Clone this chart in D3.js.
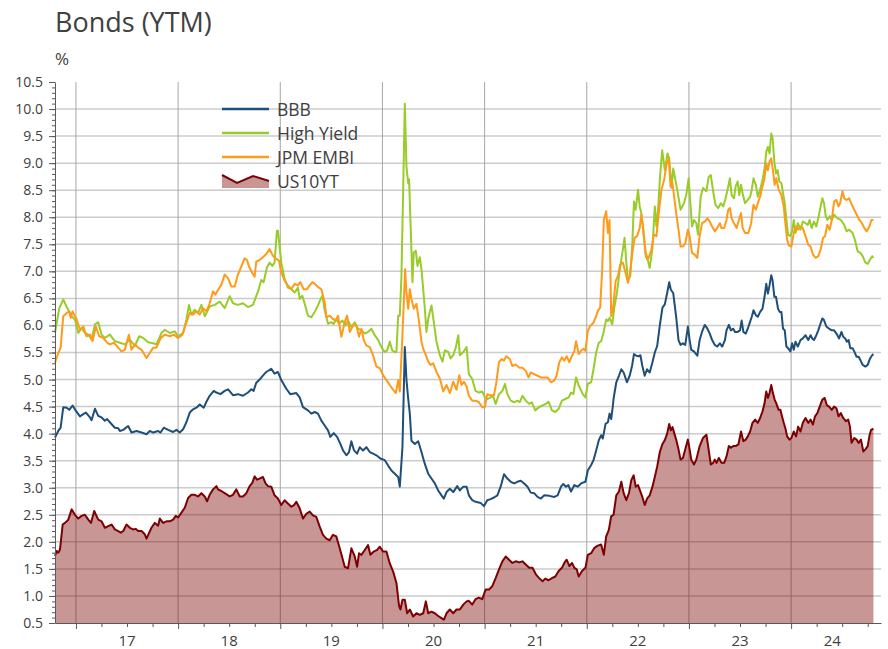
<!DOCTYPE html>
<html>
<head>
  <meta charset="utf-8">
  <title>Bonds (YTM)</title>
  <script src="https://cdn.jsdelivr.net/npm/d3@7"></script>
  <style>
    body { margin: 0; background: #ffffff; }
    text { font-family: "Open Sans", sans-serif; fill: #404040; }
  </style>
</head>
<body>
<svg id="chart" width="888" height="649"></svg>
<script>
// values, [decimal year, yield %]
var yearLabels = ["17", "18", "19", "20", "21", "22", "23", "24"];
var seriesNames = ["BBB", "High Yield", "JPM EMBI", "US10YT"];

var bbb = [[2016.795,3.93],[2016.827,4.05],[2016.850,4.11],[2016.876,4.49],[2016.909,4.48],[2016.935,4.44],[2016.967,4.52],[2017.0,4.42],[2017.039,4.32],[2017.072,4.36],[2017.098,4.39],[2017.137,4.30],[2017.153,4.25],[2017.186,4.46],[2017.218,4.33],[2017.251,4.30],[2017.283,4.24],[2017.306,4.27],[2017.332,4.21],[2017.381,4.11],[2017.414,4.10],[2017.430,4.05],[2017.463,4.07],[2017.511,4.14],[2017.544,4.02],[2017.593,4.05],[2017.642,4.02],[2017.691,3.99],[2017.723,4.05],[2017.756,4.02],[2017.805,4.05],[2017.827,4.02],[2017.860,4.11],[2017.902,4.07],[2017.951,4.03],[2017.984,4.07],[2018.016,4.02],[2018.049,4.08],[2018.081,4.21],[2018.114,4.39],[2018.147,4.45],[2018.179,4.48],[2018.212,4.54],[2018.251,4.48],[2018.277,4.59],[2018.309,4.70],[2018.349,4.79],[2018.375,4.76],[2018.414,4.73],[2018.456,4.79],[2018.489,4.82],[2018.537,4.71],[2018.586,4.73],[2018.635,4.70],[2018.684,4.76],[2018.717,4.82],[2018.739,4.79],[2018.765,4.94],[2018.798,5.00],[2018.824,5.06],[2018.847,5.11],[2018.863,5.14],[2018.912,5.20],[2018.944,5.11],[2018.977,5.14],[2019.010,4.99],[2019.059,4.83],[2019.098,4.73],[2019.157,4.75],[2019.190,4.67],[2019.222,4.49],[2019.271,4.43],[2019.304,4.37],[2019.337,4.40],[2019.369,4.37],[2019.402,4.24],[2019.435,4.15],[2019.467,4.06],[2019.490,3.94],[2019.523,4.01],[2019.556,3.94],[2019.588,3.81],[2019.614,3.69],[2019.647,3.60],[2019.673,3.66],[2019.696,3.86],[2019.722,3.69],[2019.752,3.63],[2019.778,3.75],[2019.810,3.69],[2019.843,3.75],[2019.876,3.66],[2019.908,3.63],[2019.941,3.60],[2019.980,3.54],[2020.023,3.51],[2020.056,3.41],[2020.088,3.32],[2020.121,3.26],[2020.154,3.20],[2020.170,3.02],[2020.196,3.75],[2020.219,5.60],[2020.235,5.00],[2020.252,4.65],[2020.268,4.37],[2020.284,3.87],[2020.317,3.81],[2020.350,3.86],[2020.382,3.66],[2020.415,3.44],[2020.448,3.26],[2020.480,3.17],[2020.513,3.08],[2020.546,2.95],[2020.578,2.86],[2020.601,2.80],[2020.627,2.92],[2020.660,2.98],[2020.693,2.92],[2020.732,3.03],[2020.758,2.95],[2020.791,3.02],[2020.824,3.02],[2020.846,2.86],[2020.879,2.77],[2020.911,2.74],[2020.961,2.72],[2020.993,2.66],[2021.026,2.77],[2021.059,2.79],[2021.092,2.82],[2021.125,2.86],[2021.157,3.02],[2021.190,3.25],[2021.223,3.17],[2021.256,3.11],[2021.289,3.08],[2021.321,3.11],[2021.354,3.13],[2021.387,3.08],[2021.420,3.02],[2021.452,2.91],[2021.485,2.90],[2021.518,2.83],[2021.551,2.80],[2021.584,2.86],[2021.633,2.85],[2021.682,2.83],[2021.715,2.86],[2021.748,3.02],[2021.770,3.07],[2021.797,3.02],[2021.820,3.05],[2021.846,2.93],[2021.879,3.05],[2021.911,3.02],[2021.944,3.08],[2021.987,3.11],[2022.010,3.32],[2022.043,3.42],[2022.066,3.51],[2022.092,3.69],[2022.118,3.88],[2022.141,3.97],[2022.157,3.91],[2022.184,4.18],[2022.207,4.21],[2022.223,4.37],[2022.239,4.27],[2022.256,4.52],[2022.262,4.64],[2022.289,4.95],[2022.315,5.07],[2022.338,5.19],[2022.361,5.13],[2022.393,4.95],[2022.420,5.07],[2022.443,5.25],[2022.462,5.47],[2022.485,5.44],[2022.508,5.43],[2022.525,5.45],[2022.544,5.25],[2022.567,5.07],[2022.590,5.19],[2022.616,5.13],[2022.643,5.32],[2022.666,5.50],[2022.689,5.62],[2022.715,6.00],[2022.741,6.33],[2022.764,6.39],[2022.787,6.60],[2022.807,6.80],[2022.823,6.66],[2022.846,6.60],[2022.875,6.16],[2022.898,5.73],[2022.918,5.64],[2022.941,5.67],[2022.964,5.64],[2022.990,5.98],[2023.007,5.73],[2023.023,5.55],[2023.049,5.52],[2023.082,5.44],[2023.105,5.73],[2023.128,5.88],[2023.155,6.01],[2023.181,5.94],[2023.204,5.85],[2023.227,5.73],[2023.253,5.64],[2023.276,5.61],[2023.303,5.67],[2023.326,5.61],[2023.352,5.73],[2023.368,5.91],[2023.391,6.01],[2023.411,5.91],[2023.434,5.94],[2023.451,5.88],[2023.477,5.88],[2023.500,5.91],[2023.516,6.09],[2023.533,5.88],[2023.556,5.85],[2023.576,5.94],[2023.599,6.07],[2023.615,6.16],[2023.632,6.28],[2023.655,6.19],[2023.674,6.16],[2023.697,6.25],[2023.720,6.31],[2023.740,6.53],[2023.757,6.77],[2023.773,6.59],[2023.789,6.74],[2023.806,6.93],[2023.819,6.83],[2023.836,6.53],[2023.852,6.53],[2023.872,6.31],[2023.888,6.25],[2023.905,6.25],[2023.921,5.94],[2023.938,5.91],[2023.954,5.61],[2023.970,5.58],[2023.993,5.52],[2024.010,5.67],[2024.026,5.55],[2024.043,5.70],[2024.066,5.61],[2024.092,5.73],[2024.115,5.76],[2024.141,5.82],[2024.168,5.73],[2024.191,5.82],[2024.207,5.76],[2024.224,5.73],[2024.240,5.79],[2024.266,5.91],[2024.289,6.04],[2024.306,6.13],[2024.322,6.10],[2024.345,5.98],[2024.372,5.94],[2024.398,5.91],[2024.421,5.91],[2024.444,5.85],[2024.470,5.76],[2024.493,5.88],[2024.510,5.79],[2024.530,5.76],[2024.546,5.70],[2024.563,5.73],[2024.579,5.58],[2024.602,5.58],[2024.618,5.52],[2024.641,5.42],[2024.661,5.42],[2024.678,5.36],[2024.701,5.27],[2024.727,5.24],[2024.750,5.27],[2024.773,5.39],[2024.793,5.45],[2024.806,5.47]];

var highYield = [[2016.795,5.86],[2016.837,6.32],[2016.876,6.48],[2016.902,6.37],[2016.958,6.17],[2016.990,6.11],[2017.023,5.86],[2017.055,5.95],[2017.088,5.86],[2017.121,5.83],[2017.153,5.74],[2017.186,6.02],[2017.218,6.06],[2017.251,5.83],[2017.283,5.77],[2017.332,5.83],[2017.381,5.71],[2017.430,5.68],[2017.479,5.65],[2017.528,5.74],[2017.577,5.62],[2017.619,5.80],[2017.658,5.77],[2017.707,5.69],[2017.756,5.67],[2017.788,5.65],[2017.837,5.86],[2017.870,5.92],[2017.919,5.86],[2017.967,5.89],[2018.0,5.80],[2018.049,5.86],[2018.081,6.11],[2018.107,6.38],[2018.130,6.20],[2018.163,6.29],[2018.195,6.23],[2018.228,6.38],[2018.261,6.17],[2018.309,6.35],[2018.358,6.38],[2018.407,6.44],[2018.456,6.32],[2018.505,6.54],[2018.537,6.41],[2018.586,6.38],[2018.635,6.41],[2018.684,6.34],[2018.733,6.38],[2018.782,6.63],[2018.814,6.84],[2018.837,6.80],[2018.869,7.07],[2018.895,7.16],[2018.922,7.10],[2018.944,7.16],[2018.967,7.75],[2018.977,7.75],[2018.993,7.47],[2019.010,7.16],[2019.042,6.86],[2019.075,6.70],[2019.108,6.67],[2019.141,6.61],[2019.173,6.70],[2019.190,6.49],[2019.216,6.55],[2019.239,6.40],[2019.271,6.18],[2019.304,6.15],[2019.337,6.25],[2019.369,6.37],[2019.395,6.49],[2019.412,6.55],[2019.435,6.28],[2019.467,6.03],[2019.500,6.06],[2019.523,6.03],[2019.549,6.12],[2019.575,6.03],[2019.608,6.09],[2019.641,6.00],[2019.663,6.09],[2019.696,5.97],[2019.729,6.06],[2019.761,5.94],[2019.794,5.91],[2019.827,5.85],[2019.859,5.88],[2019.892,5.94],[2019.925,5.82],[2019.958,5.73],[2019.990,5.60],[2020.023,5.51],[2020.046,5.54],[2020.072,5.70],[2020.095,5.54],[2020.121,5.51],[2020.137,5.51],[2020.154,6.18],[2020.170,6.18],[2020.186,6.92],[2020.203,8.51],[2020.219,10.10],[2020.235,8.94],[2020.252,8.63],[2020.261,8.70],[2020.275,7.90],[2020.294,6.80],[2020.307,7.35],[2020.327,7.38],[2020.343,7.10],[2020.366,7.26],[2020.382,7.04],[2020.399,6.67],[2020.415,6.31],[2020.431,5.88],[2020.448,6.12],[2020.464,6.25],[2020.480,6.37],[2020.503,6.06],[2020.529,5.70],[2020.562,5.45],[2020.588,5.33],[2020.611,5.54],[2020.644,5.51],[2020.667,5.39],[2020.693,5.45],[2020.719,5.60],[2020.742,5.82],[2020.758,5.45],[2020.791,5.51],[2020.824,5.60],[2020.846,5.10],[2020.879,5.01],[2020.911,4.79],[2020.944,4.76],[2020.977,4.78],[2021.003,4.67],[2021.026,4.64],[2021.059,4.67],[2021.082,4.70],[2021.108,4.55],[2021.141,4.73],[2021.174,4.79],[2021.200,4.92],[2021.223,4.73],[2021.256,4.61],[2021.289,4.58],[2021.321,4.61],[2021.344,4.58],[2021.370,4.70],[2021.403,4.61],[2021.436,4.55],[2021.462,4.58],[2021.495,4.43],[2021.534,4.49],[2021.567,4.52],[2021.600,4.55],[2021.626,4.59],[2021.659,4.43],[2021.692,4.40],[2021.725,4.46],[2021.757,4.61],[2021.790,4.64],[2021.823,4.67],[2021.846,4.76],[2021.869,4.73],[2021.895,5.04],[2021.921,4.89],[2021.961,4.73],[2021.987,4.67],[2022.010,4.92],[2022.043,4.95],[2022.066,5.19],[2022.092,5.50],[2022.118,5.68],[2022.141,5.71],[2022.164,5.87],[2022.190,6.11],[2022.207,6.08],[2022.223,6.14],[2022.249,6.02],[2022.272,6.36],[2022.295,6.60],[2022.321,7.00],[2022.348,7.34],[2022.370,7.62],[2022.387,7.16],[2022.403,6.85],[2022.426,6.91],[2022.446,7.52],[2022.462,8.29],[2022.479,8.14],[2022.502,8.51],[2022.518,8.20],[2022.534,8.08],[2022.551,7.77],[2022.577,7.28],[2022.600,7.19],[2022.616,7.06],[2022.643,7.43],[2022.666,8.20],[2022.682,7.83],[2022.698,8.14],[2022.715,8.69],[2022.738,9.24],[2022.764,8.87],[2022.790,9.18],[2022.807,9.09],[2022.830,8.54],[2022.846,8.90],[2022.885,8.51],[2022.918,8.14],[2022.951,8.26],[2022.974,8.41],[2022.997,8.72],[2023.016,8.20],[2023.030,7.83],[2023.049,7.95],[2023.072,7.89],[2023.089,7.68],[2023.115,8.38],[2023.138,8.54],[2023.171,8.48],[2023.194,8.75],[2023.214,8.78],[2023.237,8.48],[2023.260,8.23],[2023.286,8.17],[2023.313,8.26],[2023.336,8.20],[2023.359,8.35],[2023.385,8.57],[2023.401,8.72],[2023.418,8.41],[2023.441,8.35],[2023.457,8.57],[2023.477,8.66],[2023.493,8.41],[2023.510,8.60],[2023.526,8.44],[2023.549,8.26],[2023.576,8.32],[2023.599,8.38],[2023.615,8.51],[2023.632,8.72],[2023.655,8.60],[2023.674,8.38],[2023.697,8.51],[2023.720,8.69],[2023.740,8.90],[2023.757,9.21],[2023.773,9.30],[2023.789,9.18],[2023.806,9.55],[2023.819,9.46],[2023.836,9.03],[2023.852,8.81],[2023.868,8.87],[2023.885,8.66],[2023.905,8.63],[2023.918,8.48],[2023.938,8.26],[2023.954,7.95],[2023.970,7.68],[2023.993,7.65],[2024.010,7.74],[2024.026,7.95],[2024.043,7.71],[2024.066,7.89],[2024.092,7.77],[2024.115,7.92],[2024.141,7.89],[2024.164,7.86],[2024.181,7.95],[2024.201,7.80],[2024.224,7.92],[2024.247,7.83],[2024.266,7.98],[2024.289,8.20],[2024.306,8.35],[2024.322,8.26],[2024.339,8.02],[2024.355,7.95],[2024.378,8.02],[2024.398,7.95],[2024.421,8.05],[2024.454,7.98],[2024.487,7.95],[2024.520,7.86],[2024.543,7.74],[2024.569,7.77],[2024.602,7.71],[2024.628,7.56],[2024.651,7.37],[2024.678,7.34],[2024.701,7.28],[2024.727,7.16],[2024.750,7.14],[2024.773,7.22],[2024.793,7.28],[2024.806,7.25]];

var jpmEmbi = [[2016.795,5.31],[2016.827,5.49],[2016.850,5.59],[2016.876,6.17],[2016.909,6.23],[2016.935,6.26],[2016.948,6.14],[2016.967,6.26],[2017.007,6.11],[2017.039,5.92],[2017.072,5.98],[2017.104,5.80],[2017.137,5.83],[2017.163,5.71],[2017.195,5.98],[2017.228,5.80],[2017.267,5.77],[2017.306,5.68],[2017.332,5.65],[2017.371,5.68],[2017.414,5.59],[2017.446,5.52],[2017.479,5.55],[2017.518,5.83],[2017.544,5.55],[2017.577,5.65],[2017.609,5.59],[2017.642,5.55],[2017.691,5.40],[2017.723,5.49],[2017.756,5.59],[2017.788,5.59],[2017.831,5.77],[2017.870,5.83],[2017.919,5.80],[2017.958,5.83],[2018.0,5.77],[2018.042,5.83],[2018.081,6.05],[2018.114,6.23],[2018.147,6.20],[2018.179,6.26],[2018.212,6.20],[2018.244,6.32],[2018.277,6.26],[2018.309,6.41],[2018.342,6.63],[2018.365,6.57],[2018.391,6.66],[2018.423,6.75],[2018.456,6.94],[2018.489,6.87],[2018.521,6.72],[2018.554,6.72],[2018.586,6.94],[2018.619,7.09],[2018.651,7.24],[2018.674,7.21],[2018.694,7.09],[2018.726,6.97],[2018.749,6.90],[2018.765,7.18],[2018.798,7.21],[2018.830,7.26],[2018.863,7.32],[2018.895,7.41],[2018.928,7.29],[2018.961,7.23],[2018.987,7.20],[2019.010,6.98],[2019.042,6.83],[2019.075,6.74],[2019.108,6.67],[2019.141,6.77],[2019.173,6.74],[2019.196,6.80],[2019.229,6.67],[2019.261,6.67],[2019.288,6.74],[2019.314,6.80],[2019.337,6.77],[2019.369,6.71],[2019.402,6.67],[2019.435,6.43],[2019.451,6.15],[2019.484,6.18],[2019.516,6.12],[2019.542,6.09],[2019.565,6.18],[2019.598,5.79],[2019.631,6.06],[2019.654,6.18],[2019.680,5.88],[2019.712,6.00],[2019.745,6.00],[2019.771,5.79],[2019.794,5.94],[2019.817,5.73],[2019.843,5.63],[2019.876,5.60],[2019.908,5.45],[2019.941,5.24],[2019.974,5.21],[2020.007,5.08],[2020.039,4.99],[2020.072,4.90],[2020.105,4.81],[2020.131,4.75],[2020.154,4.99],[2020.170,4.78],[2020.193,5.70],[2020.209,6.43],[2020.222,7.04],[2020.235,6.61],[2020.252,6.31],[2020.268,6.67],[2020.284,6.49],[2020.307,6.31],[2020.333,6.40],[2020.359,6.06],[2020.382,5.70],[2020.399,5.57],[2020.425,5.45],[2020.448,5.33],[2020.471,5.27],[2020.497,5.30],[2020.529,5.14],[2020.562,5.02],[2020.595,4.78],[2020.627,4.90],[2020.660,4.75],[2020.693,4.96],[2020.725,4.81],[2020.752,5.08],[2020.775,4.90],[2020.797,4.96],[2020.824,4.87],[2020.846,4.70],[2020.879,4.61],[2020.911,4.61],[2020.944,4.58],[2020.977,4.49],[2021.003,4.49],[2021.026,4.73],[2021.049,4.71],[2021.092,4.71],[2021.115,4.95],[2021.141,5.32],[2021.167,5.38],[2021.190,5.35],[2021.213,5.43],[2021.246,5.38],[2021.272,5.25],[2021.305,5.28],[2021.338,5.22],[2021.370,5.22],[2021.403,5.16],[2021.430,5.04],[2021.452,5.13],[2021.485,5.10],[2021.518,5.07],[2021.551,5.04],[2021.584,5.04],[2021.616,5.04],[2021.649,4.95],[2021.682,4.98],[2021.705,5.07],[2021.731,5.32],[2021.757,5.41],[2021.780,5.35],[2021.803,5.43],[2021.830,5.32],[2021.856,5.44],[2021.879,5.53],[2021.895,5.71],[2021.921,5.47],[2021.944,5.53],[2021.967,5.57],[2021.987,5.53],[2022.010,5.90],[2022.033,5.99],[2022.066,6.05],[2022.092,6.17],[2022.108,6.27],[2022.131,6.33],[2022.151,7.03],[2022.167,7.95],[2022.190,8.11],[2022.207,7.71],[2022.223,7.95],[2022.239,6.17],[2022.262,6.39],[2022.282,6.82],[2022.305,6.91],[2022.328,7.13],[2022.354,7.16],[2022.380,6.97],[2022.403,6.79],[2022.420,6.91],[2022.446,7.34],[2022.469,7.62],[2022.492,7.65],[2022.518,7.80],[2022.534,8.05],[2022.551,7.83],[2022.577,7.34],[2022.600,7.22],[2022.633,7.40],[2022.656,7.68],[2022.682,7.65],[2022.705,8.08],[2022.731,8.51],[2022.757,8.69],[2022.780,8.97],[2022.803,9.09],[2022.820,8.57],[2022.839,8.63],[2022.875,8.08],[2022.898,7.77],[2022.918,7.46],[2022.941,7.46],[2022.964,7.52],[2022.990,7.77],[2023.007,7.65],[2023.030,7.34],[2023.056,7.31],[2023.082,7.25],[2023.105,7.65],[2023.128,7.89],[2023.155,7.92],[2023.181,7.98],[2023.204,7.92],[2023.227,7.83],[2023.253,7.74],[2023.276,7.80],[2023.303,7.89],[2023.319,7.80],[2023.345,7.80],[2023.368,7.95],[2023.385,8.14],[2023.401,8.17],[2023.418,7.98],[2023.441,7.89],[2023.467,7.80],[2023.490,7.95],[2023.510,8.08],[2023.526,7.80],[2023.549,7.71],[2023.582,7.71],[2023.609,7.89],[2023.632,8.23],[2023.655,8.14],[2023.674,8.26],[2023.697,8.38],[2023.720,8.57],[2023.740,8.72],[2023.757,9.00],[2023.773,8.87],[2023.789,9.03],[2023.806,9.09],[2023.822,8.87],[2023.839,8.60],[2023.855,8.72],[2023.878,8.51],[2023.905,8.41],[2023.928,8.20],[2023.944,7.89],[2023.961,7.59],[2023.977,7.48],[2024.003,7.46],[2024.026,7.71],[2024.043,7.83],[2024.069,7.77],[2024.092,7.83],[2024.115,7.80],[2024.141,7.65],[2024.168,7.49],[2024.191,7.46],[2024.214,7.31],[2024.240,7.25],[2024.266,7.28],[2024.289,7.40],[2024.313,7.62],[2024.332,7.65],[2024.355,7.86],[2024.378,7.77],[2024.398,7.95],[2024.421,8.29],[2024.444,8.32],[2024.464,8.20],[2024.480,8.26],[2024.503,8.48],[2024.520,8.35],[2024.543,8.32],[2024.569,8.35],[2024.595,8.23],[2024.618,8.14],[2024.641,8.05],[2024.668,7.95],[2024.694,7.89],[2024.717,7.80],[2024.740,7.74],[2024.766,7.83],[2024.786,7.95],[2024.806,7.95]];

var us10yt = [[2016.795,1.74],[2016.811,1.83],[2016.827,1.80],[2016.844,1.86],[2016.870,2.32],[2016.893,2.35],[2016.925,2.41],[2016.958,2.60],[2016.990,2.50],[2017.023,2.43],[2017.055,2.48],[2017.088,2.50],[2017.121,2.41],[2017.147,2.35],[2017.179,2.57],[2017.218,2.41],[2017.251,2.38],[2017.283,2.26],[2017.316,2.29],[2017.349,2.32],[2017.381,2.23],[2017.414,2.20],[2017.440,2.17],[2017.463,2.20],[2017.495,2.32],[2017.528,2.26],[2017.560,2.23],[2017.586,2.24],[2017.609,2.20],[2017.642,2.20],[2017.674,2.14],[2017.691,2.06],[2017.717,2.17],[2017.739,2.26],[2017.772,2.35],[2017.805,2.30],[2017.821,2.43],[2017.853,2.35],[2017.886,2.38],[2017.919,2.38],[2017.951,2.41],[2017.977,2.48],[2018.0,2.45],[2018.033,2.54],[2018.065,2.63],[2018.098,2.81],[2018.130,2.87],[2018.163,2.87],[2018.195,2.84],[2018.228,2.90],[2018.261,2.84],[2018.283,2.75],[2018.309,2.87],[2018.342,2.97],[2018.375,3.03],[2018.391,2.97],[2018.423,2.94],[2018.456,2.90],[2018.505,2.84],[2018.537,2.87],[2018.570,2.97],[2018.603,2.84],[2018.635,2.84],[2018.668,2.90],[2018.700,3.03],[2018.726,3.09],[2018.749,3.21],[2018.772,3.15],[2018.797,3.17],[2018.830,3.20],[2018.856,3.08],[2018.879,3.03],[2018.912,3.02],[2018.944,2.86],[2018.977,2.80],[2019.010,2.68],[2019.042,2.77],[2019.075,2.71],[2019.108,2.65],[2019.134,2.68],[2019.157,2.74],[2019.190,2.62],[2019.222,2.43],[2019.255,2.52],[2019.288,2.56],[2019.320,2.49],[2019.353,2.46],[2019.386,2.28],[2019.418,2.13],[2019.451,2.06],[2019.484,2.03],[2019.516,2.13],[2019.549,2.10],[2019.582,1.88],[2019.608,1.70],[2019.631,1.54],[2019.663,1.51],[2019.696,1.88],[2019.729,1.73],[2019.752,1.54],[2019.771,1.79],[2019.794,1.76],[2019.827,1.85],[2019.859,1.94],[2019.882,1.76],[2019.915,1.82],[2019.948,1.85],[2019.974,1.91],[2020.007,1.82],[2020.039,1.82],[2020.072,1.60],[2020.105,1.45],[2020.137,1.24],[2020.163,0.81],[2020.176,0.75],[2020.196,0.93],[2020.219,0.93],[2020.242,0.68],[2020.268,0.75],[2020.301,0.62],[2020.333,0.68],[2020.366,0.65],[2020.399,0.68],[2020.425,0.90],[2020.448,0.68],[2020.480,0.71],[2020.513,0.68],[2020.546,0.63],[2020.578,0.59],[2020.601,0.56],[2020.627,0.68],[2020.660,0.75],[2020.693,0.68],[2020.725,0.75],[2020.758,0.75],[2020.791,0.84],[2020.824,0.90],[2020.846,0.91],[2020.879,0.84],[2020.911,0.94],[2020.944,0.97],[2020.977,0.94],[2021.010,1.12],[2021.043,1.12],[2021.075,1.18],[2021.108,1.33],[2021.141,1.49],[2021.174,1.64],[2021.207,1.73],[2021.239,1.67],[2021.272,1.61],[2021.305,1.64],[2021.338,1.62],[2021.370,1.64],[2021.403,1.58],[2021.436,1.52],[2021.469,1.52],[2021.502,1.40],[2021.534,1.33],[2021.567,1.27],[2021.593,1.32],[2021.626,1.29],[2021.659,1.33],[2021.692,1.36],[2021.725,1.46],[2021.757,1.52],[2021.780,1.61],[2021.803,1.67],[2021.830,1.55],[2021.856,1.61],[2021.879,1.52],[2021.902,1.49],[2021.921,1.36],[2021.954,1.46],[2021.987,1.52],[2022.010,1.76],[2022.043,1.79],[2022.075,1.89],[2022.108,1.93],[2022.141,1.95],[2022.167,1.76],[2022.190,2.10],[2022.216,2.22],[2022.239,2.47],[2022.262,2.50],[2022.289,2.86],[2022.315,2.93],[2022.338,3.11],[2022.361,2.90],[2022.387,2.77],[2022.413,2.90],[2022.436,3.14],[2022.459,3.23],[2022.479,3.02],[2022.502,3.05],[2022.525,2.93],[2022.544,2.83],[2022.567,2.68],[2022.590,2.80],[2022.616,2.86],[2022.643,3.02],[2022.666,3.20],[2022.689,3.39],[2022.715,3.66],[2022.741,3.81],[2022.764,3.88],[2022.787,4.00],[2022.807,4.18],[2022.823,4.06],[2022.839,4.12],[2022.875,3.89],[2022.898,3.71],[2022.918,3.52],[2022.941,3.55],[2022.964,3.71],[2022.990,3.89],[2023.007,3.71],[2023.023,3.52],[2023.049,3.43],[2023.072,3.52],[2023.105,3.77],[2023.138,3.92],[2023.171,3.98],[2023.188,3.77],[2023.214,3.43],[2023.237,3.46],[2023.253,3.52],[2023.270,3.46],[2023.293,3.55],[2023.319,3.46],[2023.345,3.46],[2023.368,3.58],[2023.391,3.77],[2023.411,3.74],[2023.434,3.77],[2023.457,3.77],[2023.484,3.80],[2023.510,4.04],[2023.533,3.86],[2023.556,3.89],[2023.576,3.95],[2023.599,4.04],[2023.622,4.20],[2023.648,4.26],[2023.674,4.20],[2023.697,4.29],[2023.720,4.41],[2023.740,4.56],[2023.757,4.78],[2023.773,4.66],[2023.789,4.75],[2023.806,4.90],[2023.822,4.75],[2023.839,4.63],[2023.855,4.56],[2023.878,4.44],[2023.895,4.44],[2023.911,4.32],[2023.928,4.20],[2023.944,4.10],[2023.961,3.95],[2023.984,3.89],[2024.003,3.92],[2024.026,4.04],[2024.049,3.95],[2024.069,4.13],[2024.092,4.04],[2024.115,4.20],[2024.141,4.29],[2024.168,4.20],[2024.191,4.26],[2024.214,4.17],[2024.234,4.32],[2024.257,4.38],[2024.280,4.50],[2024.306,4.63],[2024.329,4.66],[2024.349,4.53],[2024.372,4.50],[2024.398,4.44],[2024.421,4.50],[2024.444,4.47],[2024.464,4.32],[2024.487,4.38],[2024.510,4.29],[2024.536,4.23],[2024.559,4.26],[2024.576,4.13],[2024.592,3.83],[2024.618,3.92],[2024.641,3.89],[2024.661,3.83],[2024.684,3.89],[2024.707,3.67],[2024.727,3.71],[2024.750,3.77],[2024.766,3.95],[2024.783,4.07],[2024.806,4.09]];

// small zigzag used as the US10YT legend key
var legendZigzag = [[0, 0], [15, 8], [31, 1], [47, 6]];

var svg = d3.select("#chart");

var x = d3.scaleLinear().domain([2016.795, 2024.88]).range([55, 881]);
var y = d3.scaleLinear().domain([0.5, 10.5]).range([623, 82]);

var lastT = bbb[bbb.length - 1][0];
var years = yearLabels.map(function(d) { return 2000 + (+d); });

// title
svg.append("text").attr("x", 55).attr("y", 32)
  .style("font-size", "27px").text("Bonds (YTM)");
svg.append("text").attr("x", 55).attr("y", 65)
  .style("font-size", "17px").text("%");

// gridlines
svg.append("g").selectAll("line")
  .data(d3.range(2, 21).map(function(d) { return d / 2; }))
  .enter().append("line")
  .attr("x1", x.range()[0]).attr("x2", x.range()[1])
  .attr("y1", function(d) { return y(d); }).attr("y2", function(d) { return y(d); })
  .style("stroke", "#cccccc").style("stroke-width", "1.5px");

svg.append("g").selectAll("line")
  .data(years)
  .enter().append("line")
  .attr("x1", function(d) { return x(d); }).attr("x2", function(d) { return x(d); })
  .attr("y1", y(10.5)).attr("y2", y(0.5))
  .style("stroke", "#a6a6a6").style("stroke-width", "1px");

// US10YT area
svg.append("path").datum(us10yt)
  .attr("d", d3.area()
    .x(function(d) { return x(d[0]); })
    .y0(y(0.5))
    .y1(function(d) { return y(d[1]); }))
  .style("fill", "rgba(125,0,0,0.41)");

var line = d3.line()
  .x(function(d) { return x(d[0]); })
  .y(function(d) { return y(d[1]); });

var series = [
  {name: seriesNames[3], values: us10yt, color: "#7f0000"},
  {name: seriesNames[0], values: bbb, color: "#1f4e79"},
  {name: seriesNames[1], values: highYield, color: "#99cc29"},
  {name: seriesNames[2], values: jpmEmbi, color: "#ff9a1a"}
];

svg.append("g").selectAll("path")
  .data(series)
  .enter().append("path")
  .attr("d", function(d) { return line(d.values); })
  .style("fill", "none")
  .style("stroke", function(d) { return d.color; })
  .style("stroke-width", "2px")
  .style("stroke-linejoin", "round");

// y axis
var yMajor = d3.range(1, 22).map(function(d) { return d / 2; });
var yMinor = d3.range(5, 106).map(function(d) { return d / 10; });

svg.append("g").attr("transform", "translate(55,0)")
  .call(d3.axisLeft(y).tickValues(yMinor).tickSize(3).tickSizeOuter(0).tickFormat(""))
  .call(function(g) { g.select(".domain").remove(); })
  .selectAll("line").style("stroke", "#595959");

var yAxis = svg.append("g").attr("transform", "translate(55,0)")
  .call(d3.axisLeft(y).tickValues(yMajor).tickSize(6).tickSizeOuter(0).tickPadding(6).tickFormat(d3.format(".1f")));
yAxis.select(".domain").style("stroke", "#595959");
yAxis.selectAll("line").style("stroke", "#595959");
yAxis.selectAll("text").style("font-size", "14px").style("font-family", "Open Sans, sans-serif").style("fill", "#404040");

// x axis
var quarters = d3.range(2017 * 4, 2024 * 4 + 4).map(function(d) { return d / 4; });

var xAxis = svg.append("g").attr("transform", "translate(0," + y(0.5) + ")")
  .call(d3.axisBottom(x).tickValues(quarters).tickSize(4).tickSizeOuter(0).tickFormat(""));
xAxis.select(".domain").style("stroke", "#595959");
xAxis.selectAll(".tick line")
  .attr("y2", function(d) { return d % 1 === 0 ? 6 : 4; })
  .style("stroke", "#595959");

svg.append("g").selectAll("text")
  .data(yearLabels)
  .enter().append("text")
  .attr("x", function(d, i) { return x((years[i] + Math.min(years[i] + 1, lastT)) / 2); })
  .attr("y", 646)
  .attr("text-anchor", "middle")
  .style("font-size", "15px")
  .text(function(d) { return d; });

// legend
var legend = svg.append("g").attr("transform", "translate(222,109)");

var rows = legend.selectAll("g")
  .data([series[1], series[2], series[3], series[0]])
  .enter().append("g")
  .attr("transform", function(d, i) { return "translate(0," + (i * 24) + ")"; });

rows.filter(function(d) { return d.name !== "US10YT"; })
  .append("line")
  .attr("x1", 0).attr("x2", 47).attr("y1", 0).attr("y2", 0)
  .style("stroke", function(d) { return d.color; })
  .style("stroke-width", "2.5px");

var keyArea = rows.filter(function(d) { return d.name === "US10YT"; });
keyArea.append("path").datum(legendZigzag)
  .attr("d", d3.area().x(function(d) { return d[0]; }).y0(7).y1(function(d) { return d[1] - 6; }))
  .style("fill", "rgba(125,0,0,0.41)");
keyArea.append("path").datum(legendZigzag)
  .attr("d", d3.line().x(function(d) { return d[0]; }).y(function(d) { return d[1] - 6; }))
  .style("fill", "none").style("stroke", "#7f0000").style("stroke-width", "2px");

rows.append("text")
  .attr("x", 55).attr("y", 6.5)
  .style("font-size", "17.5px")
  .text(function(d) { return d.name; });
</script>
</body>
</html>
